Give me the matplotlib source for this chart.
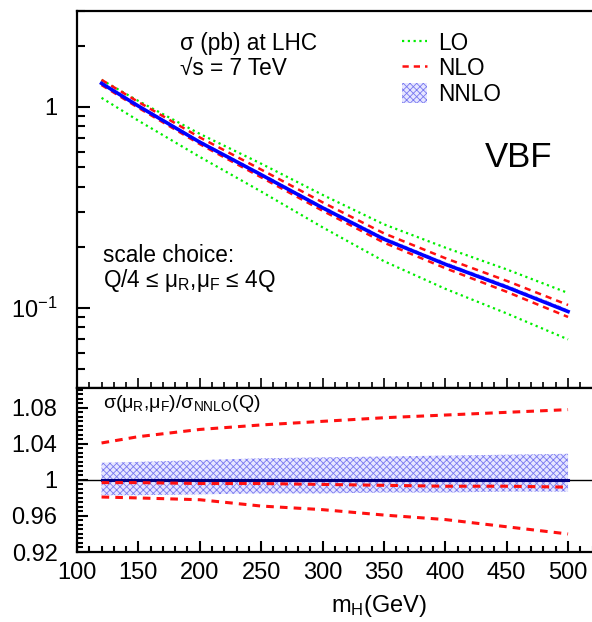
import matplotlib
matplotlib.use('Agg')
import matplotlib.pyplot as plt
import numpy as np
from matplotlib.ticker import MultipleLocator, FixedLocator, FuncFormatter, NullFormatter, LogLocator

plt.rcParams['font.family'] = ['Liberation Sans', 'DejaVu Sans']
plt.rcParams['mathtext.fontset'] = 'custom'
plt.rcParams['mathtext.rm'] = 'Liberation Sans'
plt.rcParams['mathtext.it'] = 'Liberation Sans:italic'
plt.rcParams['mathtext.default'] = 'regular'
plt.rcParams['hatch.linewidth'] = 0.6

# Higgs mass points (GeV)
mh = np.array([120, 150, 200, 250, 300, 350, 400, 450, 500])
# NNLO central cross section (pb)
nnlo = np.array([1.31, 1.01, 0.668, 0.46, 0.315, 0.22, 0.165, 0.127, 0.096])
# ratios to NNLO(Q)
lo_up = np.array([1.04, 1.06, 1.10, 1.135, 1.16, 1.185, 1.21, 1.225, 1.237])
lo_dn = np.array([0.847, 0.846, 0.845, 0.825, 0.80, 0.777, 0.755, 0.74, 0.727])
nlo_up = np.array([1.041, 1.048, 1.056, 1.061, 1.065, 1.069, 1.072, 1.075, 1.078])
nlo_dn = np.array([0.981, 0.980, 0.978, 0.971, 0.967, 0.961, 0.956, 0.948, 0.940])
nlo_c = np.array([0.997, 0.997, 0.996, 0.996, 0.995, 0.994, 0.993, 0.993, 0.992])
nnlo_up = np.array([1.019, 1.020, 1.022, 1.024, 1.025, 1.026, 1.027, 1.028, 1.029])
nnlo_dn = np.array([0.983, 0.983, 0.984, 0.985, 0.985, 0.986, 0.986, 0.987, 0.987])

green = '#00ee00'
red = '#ff1010'
blue = '#0000ff'
hatch_face = '#e6e6ff'
hatch_edge = '#7878f0'

W, H = 592, 622
fig = plt.figure(figsize=(W / 100, H / 100), dpi=100)


def box(l, t, r, b):
    return [l / W, 1 - b / H, (r - l) / W, (b - t) / H]


ax1 = fig.add_axes(box(77, 11, 592.6, 388))
ax2 = fig.add_axes(box(77, 388, 592.6, 552))

# ---- top panel: cross sections
ax1.set_yscale('log')
l_lo, = ax1.plot(mh, nnlo * lo_up, ls=(0, (1, 1.6)), color=green, lw=1.6)
ax1.plot(mh, nnlo * lo_dn, ls=(0, (1, 1.6)), color=green, lw=1.6)
l_nlo, = ax1.plot(mh, nnlo * nlo_up, ls=(0, (2.5, 2)), color=red, lw=1.8)
ax1.plot(mh, nnlo * nlo_dn, ls=(0, (2.5, 2)), color=red, lw=1.8)
band = ax1.fill_between(mh, nnlo * nnlo_dn, nnlo * nnlo_up, facecolor=hatch_face,
                        edgecolor=hatch_edge, hatch='xxxxx', lw=0)
ax1.plot(mh, nnlo, color=blue, lw=2.6, zorder=5)

ax1.set_xlim(100, 520)
ax1.set_ylim(0.04, 3)
ax1.yaxis.set_major_locator(FixedLocator([0.1, 1]))
ax1.yaxis.set_minor_locator(LogLocator(subs=np.arange(2, 10)))
ax1.yaxis.set_major_formatter(FuncFormatter(lambda v, p: '1' if v > 0.5 else r'$10^{-1}$'))
ax1.yaxis.set_minor_formatter(NullFormatter())
ax1.xaxis.set_major_locator(MultipleLocator(50))
ax1.xaxis.set_minor_locator(MultipleLocator(10))
ax1.tick_params(axis='x', which='both', direction='in', labelbottom=False, top=False)
ax1.tick_params(axis='x', which='major', length=7, width=1.2)
ax1.tick_params(axis='x', which='minor', length=4, width=1.2)
ax1.tick_params(axis='y', which='both', direction='in', right=False, labelsize=17, pad=14)
ax1.tick_params(axis='y', which='major', length=9, width=1.5)
ax1.tick_params(axis='y', which='minor', length=6, width=1.5)
for s in ax1.spines.values():
    s.set_linewidth(1.6)
ax1.spines['right'].set_visible(False)

ax1.legend([l_lo, l_nlo, band], ['LO', 'NLO', 'NNLO'], loc='upper left',
           bbox_to_anchor=(402 / W, 1 - 32 / H), bbox_transform=fig.transFigure,
           frameon=False, fontsize=16.3, handlelength=1.1, handleheight=1.0,
           handletextpad=0.5, labelspacing=0.1, borderpad=0, borderaxespad=0)

fig.text(180 / W, 1 - 50 / H, 'σ (pb) at LHC', fontsize=16.3, va='baseline')
fig.text(180 / W, 1 - 75 / H, '√s = 7 TeV', fontsize=16.3, va='baseline')
fig.text(485 / W, 1 - 167 / H, 'VBF', fontsize=25, va='baseline')
fig.text(103 / W, 1 - 262 / H, 'scale choice:', fontsize=16.3, va='baseline')
fig.text(103 / W, 1 - 287 / H, 'Q/4 ≤ μ$_R$,μ$_F$ ≤ 4Q', fontsize=16.3, va='baseline')

# ---- bottom panel: ratios
ax2.axhline(1, color='black', lw=1)
ax2.fill_between(mh, nnlo_dn, nnlo_up, facecolor=hatch_face, edgecolor=hatch_edge,
                 hatch='xxxxx', lw=0, zorder=2)
ax2.plot(mh, nnlo / nnlo, color='#000080', lw=2.2, zorder=3)
for r in (nlo_up, nlo_c, nlo_dn):
    ax2.plot(mh, r, ls=(0, (2.5, 2)), color=red, lw=2.2, zorder=4)

ax2.set_xlim(100, 520)
ax2.set_ylim(0.92, 1.102)
ax2.set_yticks([0.92, 0.96, 1, 1.04, 1.08])
ax2.yaxis.set_major_formatter(FuncFormatter(lambda v, p: '%g' % round(v, 2)))
ax2.yaxis.set_minor_locator(MultipleLocator(0.005))
ax2.xaxis.set_major_locator(MultipleLocator(50))
ax2.xaxis.set_minor_locator(MultipleLocator(10))
ax2.tick_params(axis='both', which='both', direction='in', top=False, right=False, labelsize=17)
ax2.tick_params(axis='y', which='major', length=8, width=1.5, pad=14)
ax2.tick_params(axis='y', which='minor', length=4, width=1.5)
ax2.tick_params(axis='x', which='major', length=8, width=1.5, pad=7)
ax2.tick_params(axis='x', which='minor', length=4, width=1.5)
for s in ax2.spines.values():
    s.set_linewidth(1.6)
ax2.spines['right'].set_visible(False)

fig.text(103 / W, 1 - 408 / H, 'σ(μ$_R$,μ$_F$)/σ$_{NNLO}$(Q)', fontsize=14, va='baseline')
fig.text(379 / W, 1 - 606 / H, 'm$_H$(GeV)', fontsize=17, ha='center', va='center')

fig.savefig('out.png', dpi=100)
